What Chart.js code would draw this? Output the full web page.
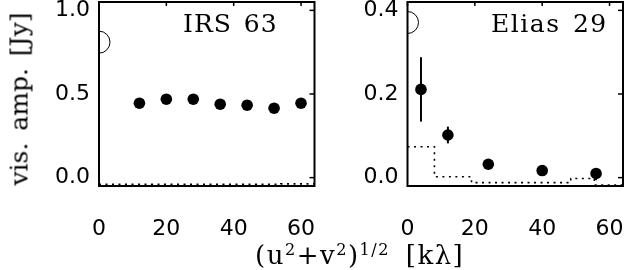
<!DOCTYPE html>
<html lang="en">
<head>
    <meta charset="UTF-8">
    <title>vis. amp.</title>
    <script src="https://cdn.jsdelivr.net/npm/chart.js"></script>
    <style>
        body { margin: 0; background: #fff; }
        #wrap { position: relative; width: 624px; height: 270px; overflow: hidden; }
        .panel { position: absolute; top: 0; height: 270px; }
        .lbl { position: absolute; font-family: "DejaVu Serif", serif; color: #000; white-space: nowrap; line-height: 1; }
        sup { font-size: 62%; vertical-align: 0; position: relative; top: -0.55em; }
    </style>
</head>
<body>
<div id="wrap">
    <div class="panel" style="left:0; width:325px;"><canvas id="irs"></canvas></div>
    <div class="panel" style="left:330px; width:294px;"><canvas id="elias"></canvas></div>
    <div class="lbl" style="left:183px; top:11px; font-size:25px; letter-spacing:1px; word-spacing:3px;">IRS 63</div>
    <div class="lbl" style="left:491px; top:11px; font-size:25px; letter-spacing:1.5px; word-spacing:3px;">Elias 29</div>
    <div class="lbl" style="left:19px; top:99px; font-size:25px; word-spacing:4px; transform:translate(-50%,-50%) rotate(-90deg);">vis. amp. [Jy]</div>
    <div class="lbl" style="left:255px; top:242px; font-size:26px; letter-spacing:1.5px; word-spacing:6px;">(u<sup>2</sup>+v<sup>2</sup>)<sup>1/2</sup> [kλ]</div>
</div>

<script>
    // valeurs
    const xTicks = [0, 20, 40, 60];

    // IRS 63
    const irsX = [12, 20, 28, 36, 44, 52, 60];
    const irsAmp = [0.445, 0.469, 0.469, 0.439, 0.433, 0.415, 0.445];
    const irsZeroAmp = 0.81;
    const irsModelX = [0, 54, 64];
    const irsModelY = [-0.040, -0.037, -0.037];
    const irsYTicks = [0, 0.5, 1.0];

    // Elias 29
    const elX = [4, 12, 24, 40, 56];
    const elAmp = [0.211, 0.102, 0.032, 0.017, 0.010];
    const elLo = [0.134, 0.082, 0.026, 0.011, -0.006];
    const elHi = [0.288, 0.122, 0.038, 0.023, 0.023];
    const elZeroAmp = 0.371;
    const elModelX = [0, 8, 19, 48.5, 55.5, 64];
    const elModelY = [0.074, 0.002, -0.012, -0.002, -0.018, -0.018];
    const elYTicks = [0, 0.2, 0.4];

    const tickFont = { family: '"DejaVu Sans", sans-serif', size: 22 };

    // cadre + petites graduations vers l'intérieur + barres d'erreur
    function framePlugin(err) {
        return {
            id: 'frame',
            afterDatasetsDraw(chart) {
                const ctx = chart.ctx;
                const a = chart.chartArea;
                const xs = chart.scales.x, ys = chart.scales.y;
                ctx.save();
                ctx.strokeStyle = '#000';
                if (err) {
                    ctx.lineWidth = 2;
                    err.x.forEach((xv, i) => {
                        const px = xs.getPixelForValue(xv);
                        ctx.beginPath();
                        ctx.moveTo(px, ys.getPixelForValue(err.lo[i]));
                        ctx.lineTo(px, ys.getPixelForValue(err.hi[i]));
                        ctx.stroke();
                    });
                }
                ctx.lineWidth = 2;
                ctx.strokeRect(a.left, a.top, a.right - a.left, a.bottom - a.top);
                ctx.lineWidth = 1.5;
                xTicks.forEach(v => {
                    const px = xs.getPixelForValue(v);
                    ctx.beginPath();
                    ctx.moveTo(px, a.top);
                    ctx.lineTo(px, a.top + 4);
                    ctx.stroke();
                });
                ys.ticks.forEach(t => {
                    const py = ys.getPixelForValue(t.value);
                    ctx.beginPath();
                    ctx.moveTo(a.right, py);
                    ctx.lineTo(a.right - 5, py);
                    ctx.stroke();
                });
                ctx.restore();
            }
        };
    }

    function makePanel(id, p) {
        const pts = p.x.map((v, i) => ({ x: v, y: p.amp[i] }));
        const model = p.modelX.map((v, i) => ({ x: v, y: p.modelY[i] }));
        new Chart(document.getElementById(id), {
            type: 'scatter',
            data: {
                datasets: [
                    {
                        data: model, showLine: true, stepped: 'before',
                        borderColor: '#000', borderWidth: 1.6, borderDash: [2, 4.5],
                        pointRadius: 0, clip: 0
                    },
                    {
                        data: [{ x: 0, y: p.zero }], pointRadius: 11, borderWidth: 1,
                        borderColor: '#000', backgroundColor: 'rgba(0,0,0,0)', clip: 0
                    },
                    {
                        data: pts, pointRadius: 5.8, borderWidth: 0,
                        backgroundColor: '#000', borderColor: '#000', clip: false
                    }
                ]
            },
            options: {
                responsive: true,
                maintainAspectRatio: false,
                animation: false,
                events: [],
                // autoPadding ajoutait le rayon du grand cercle (12px) autour du graphe
                layout: { autoPadding: false, padding: { top: 2, right: p.padRight, left: 0, bottom: 0 } },
                plugins: { legend: { display: false }, tooltip: { enabled: false } },
                scales: {
                    x: {
                        type: 'linear', min: 0, max: 64,
                        grid: { display: false, drawTicks: false },
                        border: { display: false },
                        afterBuildTicks: s => { s.ticks = xTicks.map(v => ({ value: v })); },
                        afterFit: s => { s.height = 84; s.paddingLeft = 0; s.paddingRight = 0; },
                        ticks: { color: '#000', font: tickFont, padding: 30, maxRotation: 0,
                                 callback: v => String(v) }
                    },
                    y: {
                        min: p.yMin, max: p.yMax,
                        grid: { display: false, drawTicks: false },
                        border: { display: false },
                        afterBuildTicks: s => { s.ticks = p.yTicks.map(v => ({ value: v })); },
                        afterFit: s => { s.width = p.axisW; s.paddingTop = 0; s.paddingBottom = 0; },
                        ticks: { color: '#000', font: tickFont, padding: 9,
                                 callback: v => v.toFixed(1) }
                    }
                }
            },
            plugins: [framePlugin(p.err)]
        });
    }

    makePanel('irs', {
        x: irsX, amp: irsAmp, zero: irsZeroAmp, modelX: irsModelX, modelY: irsModelY,
        yTicks: irsYTicks, yMin: -0.05, yMax: 1.05, axisW: 99, padRight: 10.5, err: null
    });
    makePanel('elias', {
        x: elX, amp: elAmp, zero: elZeroAmp, modelX: elModelX, modelY: elModelY,
        yTicks: elYTicks, yMin: -0.02, yMax: 0.42, axisW: 77.5, padRight: 1,
        err: { x: elX, lo: elLo, hi: elHi }
    });
</script>
</body>
</html>
